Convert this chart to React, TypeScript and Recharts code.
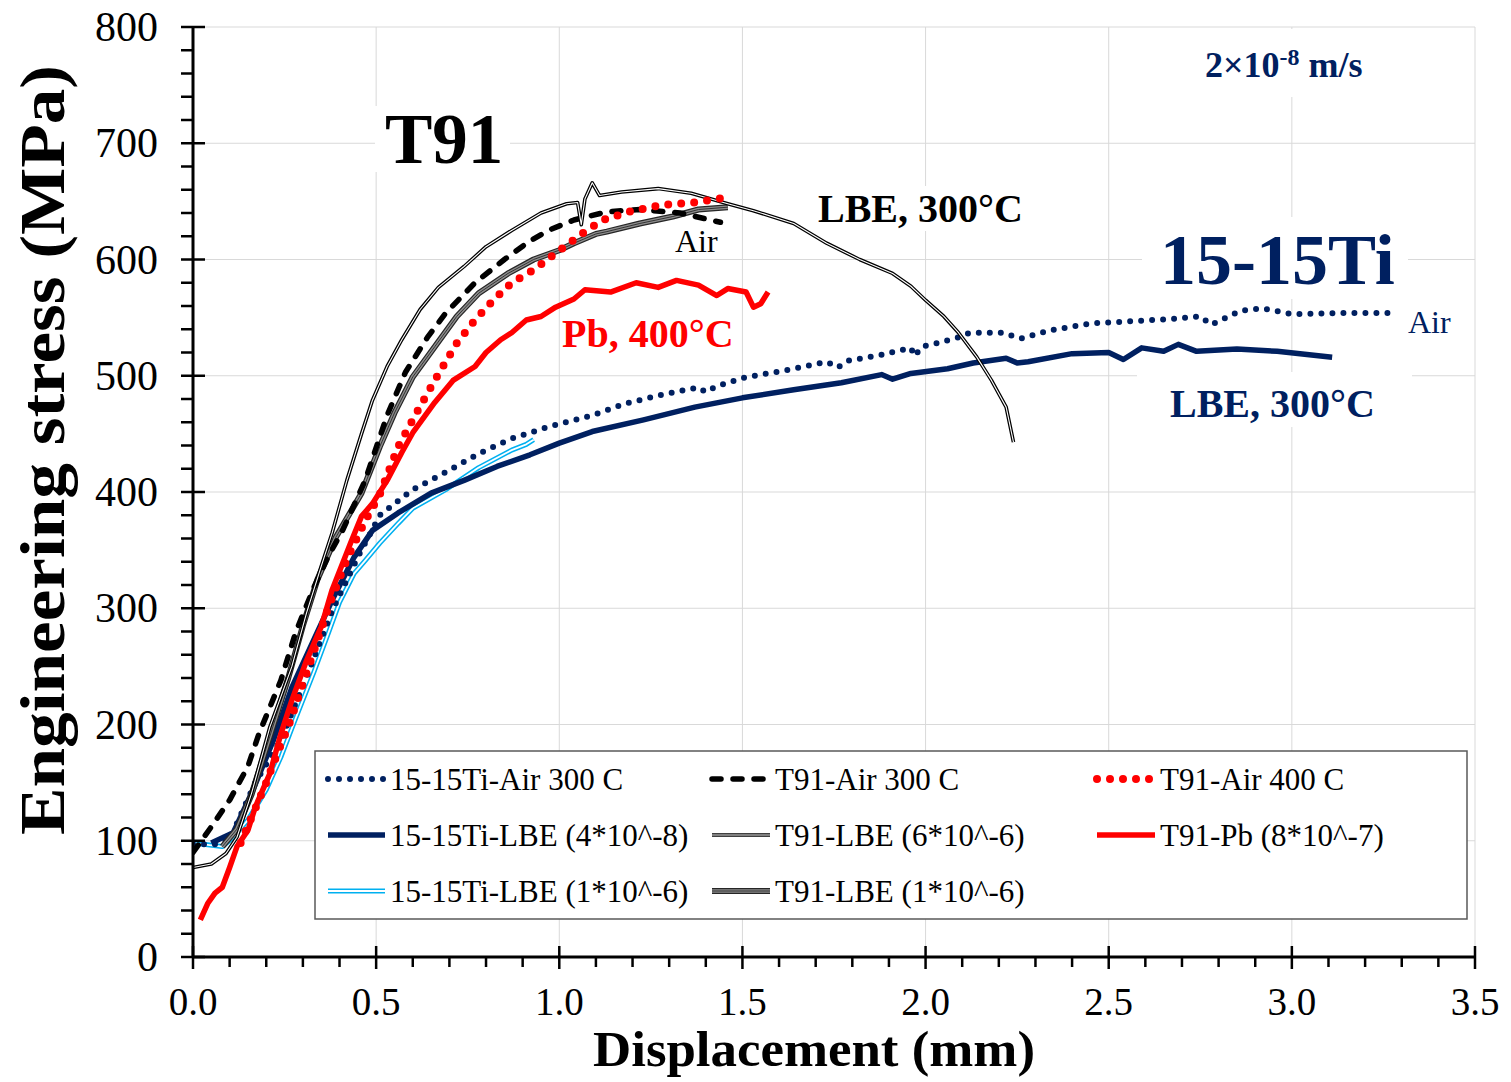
import React from 'react';
import { LineChart, Line, XAxis, YAxis, CartesianGrid } from 'recharts';

type Pt = { x: number; y: number };
type Layer = { stroke: string; width: number; dash?: string; cap?: 'round' | 'butt' };

const NAVY = '#002060';
const RED = '#FF0000';
const FONT = '"Liberation Serif", "Times New Roman", serif';

// ---------- data (displacement mm, engineering stress MPa) ----------
const ti1515Air300: Pt[] = [
  { x: 0.0, y: 97 }, { x: 0.06, y: 97 }, { x: 0.1, y: 101 }, { x: 0.17, y: 150 }, { x: 0.24, y: 187 },
  { x: 0.31, y: 241 }, { x: 0.38, y: 298 }, { x: 0.45, y: 344 }, { x: 0.51, y: 380 }, { x: 0.6, y: 402 },
  { x: 0.69, y: 417 }, { x: 0.78, y: 433 }, { x: 0.87, y: 446 }, { x: 0.97, y: 456 }, { x: 1.09, y: 466 },
  { x: 1.18, y: 476 }, { x: 1.27, y: 483 }, { x: 1.38, y: 490 }, { x: 1.4, y: 486 }, { x: 1.43, y: 491 },
  { x: 1.5, y: 498 }, { x: 1.64, y: 506 }, { x: 1.73, y: 512 }, { x: 1.76, y: 507 }, { x: 1.79, y: 513 },
  { x: 1.88, y: 518 }, { x: 1.96, y: 524 }, { x: 1.97, y: 517 }, { x: 1.99, y: 525 }, { x: 2.03, y: 528 },
  { x: 2.09, y: 533 }, { x: 2.12, y: 537 }, { x: 2.21, y: 537 }, { x: 2.26, y: 532 }, { x: 2.34, y: 539 },
  { x: 2.45, y: 545 }, { x: 2.57, y: 547 }, { x: 2.68, y: 549 }, { x: 2.75, y: 551 }, { x: 2.78, y: 544 },
  { x: 2.86, y: 556 }, { x: 2.92, y: 558 }, { x: 3.0, y: 553 }, { x: 3.14, y: 554 }, { x: 3.28, y: 554 },
];

const ti1515Lbe4e8: Pt[] = [
  { x: 0.05, y: 98 }, { x: 0.11, y: 107 }, { x: 0.16, y: 141 }, { x: 0.22, y: 187 }, { x: 0.27, y: 232 },
  { x: 0.33, y: 273 }, { x: 0.38, y: 307 }, { x: 0.44, y: 344 }, { x: 0.49, y: 367 }, { x: 0.56, y: 382 },
  { x: 0.65, y: 399 }, { x: 0.74, y: 410 }, { x: 0.83, y: 422 }, { x: 0.92, y: 432 }, { x: 1.0, y: 442 },
  { x: 1.09, y: 452 }, { x: 1.23, y: 462 }, { x: 1.37, y: 473 }, { x: 1.5, y: 481 }, { x: 1.64, y: 488 },
  { x: 1.77, y: 494 }, { x: 1.88, y: 501 }, { x: 1.91, y: 497 }, { x: 1.96, y: 502 }, { x: 2.06, y: 506 },
  { x: 2.13, y: 511 }, { x: 2.22, y: 515 }, { x: 2.25, y: 511 }, { x: 2.28, y: 512 }, { x: 2.4, y: 519 },
  { x: 2.5, y: 520 }, { x: 2.54, y: 514 }, { x: 2.59, y: 524 }, { x: 2.65, y: 521 }, { x: 2.69, y: 527 },
  { x: 2.74, y: 521 }, { x: 2.85, y: 523 }, { x: 2.96, y: 521 }, { x: 3.11, y: 516 },
];

const ti1515Lbe1e6: Pt[] = [
  { x: 0.0, y: 98 }, { x: 0.08, y: 95 }, { x: 0.11, y: 103 }, { x: 0.15, y: 118 }, { x: 0.2, y: 144 },
  { x: 0.24, y: 172 }, { x: 0.28, y: 205 }, { x: 0.33, y: 245 }, { x: 0.37, y: 279 }, { x: 0.4, y: 305 },
  { x: 0.44, y: 330 }, { x: 0.47, y: 341 }, { x: 0.51, y: 356 }, { x: 0.56, y: 373 }, { x: 0.6, y: 386 },
  { x: 0.69, y: 402 }, { x: 0.78, y: 421 }, { x: 0.87, y: 436 }, { x: 0.91, y: 441 }, { x: 0.93, y: 445 },
];

const t91Air300: Pt[] = [
  { x: 0.0, y: 90 }, { x: 0.05, y: 112 }, { x: 0.1, y: 135 }, { x: 0.15, y: 164 }, { x: 0.18, y: 192 },
  { x: 0.21, y: 215 }, { x: 0.24, y: 238 }, { x: 0.28, y: 279 }, { x: 0.33, y: 318 }, { x: 0.37, y: 345 },
  { x: 0.41, y: 368 }, { x: 0.47, y: 410 }, { x: 0.53, y: 466 }, { x: 0.58, y: 503 }, { x: 0.64, y: 533 },
  { x: 0.69, y: 554 }, { x: 0.77, y: 580 }, { x: 0.85, y: 600 }, { x: 0.92, y: 616 }, { x: 0.97, y: 625 },
  { x: 1.04, y: 634 }, { x: 1.13, y: 641 }, { x: 1.22, y: 643 }, { x: 1.33, y: 640 }, { x: 1.44, y: 632 },
];

const t91Lbe6e6: Pt[] = [
  { x: 0.0, y: 77 }, { x: 0.05, y: 80 }, { x: 0.09, y: 89 }, { x: 0.12, y: 103 }, { x: 0.16, y: 141 },
  { x: 0.21, y: 198 }, { x: 0.27, y: 250 }, { x: 0.31, y: 296 }, { x: 0.35, y: 336 }, { x: 0.38, y: 365 },
  { x: 0.42, y: 410 }, { x: 0.46, y: 450 }, { x: 0.49, y: 479 }, { x: 0.53, y: 508 }, { x: 0.57, y: 531 },
  { x: 0.62, y: 557 }, { x: 0.67, y: 576 }, { x: 0.74, y: 594 }, { x: 0.8, y: 611 }, { x: 0.87, y: 625 },
  { x: 0.95, y: 640 }, { x: 1.02, y: 648 }, { x: 1.05, y: 649 }, { x: 1.06, y: 630 }, { x: 1.07, y: 652 },
  { x: 1.09, y: 666 }, { x: 1.11, y: 655 }, { x: 1.17, y: 658 }, { x: 1.27, y: 661 }, { x: 1.36, y: 657 },
  { x: 1.46, y: 648 }, { x: 1.53, y: 642 }, { x: 1.64, y: 631 }, { x: 1.73, y: 614 }, { x: 1.82, y: 600 },
  { x: 1.91, y: 588 }, { x: 1.96, y: 577 }, { x: 2.0, y: 565 }, { x: 2.05, y: 551 }, { x: 2.09, y: 537 },
  { x: 2.14, y: 516 }, { x: 2.18, y: 496 }, { x: 2.22, y: 473 }, { x: 2.24, y: 443 },
];

const t91Lbe1e6: Pt[] = [
  { x: 0.08, y: 95 }, { x: 0.12, y: 110 }, { x: 0.16, y: 140 }, { x: 0.21, y: 190 }, { x: 0.26, y: 240 },
  { x: 0.3, y: 285 }, { x: 0.34, y: 325 }, { x: 0.39, y: 361 }, { x: 0.46, y: 399 }, { x: 0.51, y: 439 },
  { x: 0.55, y: 468 }, { x: 0.6, y: 499 }, { x: 0.66, y: 525 }, { x: 0.72, y: 551 }, { x: 0.78, y: 571 },
  { x: 0.86, y: 588 }, { x: 0.93, y: 600 }, { x: 1.0, y: 608 }, { x: 1.04, y: 614 }, { x: 1.1, y: 622 },
  { x: 1.13, y: 624 }, { x: 1.22, y: 631 }, { x: 1.31, y: 637 }, { x: 1.38, y: 643 }, { x: 1.46, y: 645 },
];

const t91Air400: Pt[] = [
  { x: 0.13, y: 98 }, { x: 0.2, y: 150 }, { x: 0.23, y: 175 }, { x: 0.26, y: 198 }, { x: 0.31, y: 244 },
  { x: 0.37, y: 301 }, { x: 0.42, y: 342 }, { x: 0.47, y: 375 }, { x: 0.51, y: 398 }, { x: 0.56, y: 439 },
  { x: 0.61, y: 468 }, { x: 0.66, y: 496 }, { x: 0.72, y: 528 }, { x: 0.77, y: 548 }, { x: 0.82, y: 565 },
  { x: 0.87, y: 580 }, { x: 0.93, y: 591 }, { x: 0.98, y: 603 }, { x: 1.07, y: 624 }, { x: 1.12, y: 634 },
  { x: 1.19, y: 641 }, { x: 1.28, y: 647 }, { x: 1.37, y: 649 }, { x: 1.47, y: 654 },
];

const t91Pb8e7: Pt[] = [
  { x: 0.02, y: 32 }, { x: 0.04, y: 46 }, { x: 0.06, y: 55 }, { x: 0.08, y: 60 }, { x: 0.1, y: 77 },
  { x: 0.12, y: 95 }, { x: 0.15, y: 109 }, { x: 0.17, y: 129 }, { x: 0.21, y: 158 }, { x: 0.24, y: 192 },
  { x: 0.27, y: 221 }, { x: 0.31, y: 255 }, { x: 0.35, y: 284 }, { x: 0.38, y: 316 }, { x: 0.43, y: 356 },
  { x: 0.46, y: 379 }, { x: 0.49, y: 390 }, { x: 0.53, y: 410 }, { x: 0.57, y: 434 }, { x: 0.6, y: 451 },
  { x: 0.66, y: 477 }, { x: 0.71, y: 496 }, { x: 0.77, y: 508 }, { x: 0.8, y: 520 }, { x: 0.84, y: 531 },
  { x: 0.87, y: 537 }, { x: 0.91, y: 548 }, { x: 0.95, y: 551 }, { x: 0.99, y: 559 }, { x: 1.04, y: 566 },
  { x: 1.07, y: 574 }, { x: 1.14, y: 572 }, { x: 1.21, y: 580 }, { x: 1.27, y: 576 }, { x: 1.32, y: 582 },
  { x: 1.38, y: 578 }, { x: 1.43, y: 569 }, { x: 1.46, y: 575 }, { x: 1.51, y: 572 }, { x: 1.53, y: 559 },
  { x: 1.55, y: 562 }, { x: 1.57, y: 572 },
];

// ---------- ticks ----------
const xTicks = [
  0, 0.1, 0.2, 0.3, 0.4, 0.5, 0.6, 0.7, 0.8, 0.9, 1.0, 1.1, 1.2, 1.3, 1.4, 1.5, 1.6, 1.7, 1.8,
  1.9, 2.0, 2.1, 2.2, 2.3, 2.4, 2.5, 2.6, 2.7, 2.8, 2.9, 3.0, 3.1, 3.2, 3.3, 3.4, 3.5,
];
const xMajor = [0, 0.5, 1.0, 1.5, 2.0, 2.5, 3.0, 3.5];
const yTicks = [
  0, 20, 40, 60, 80, 100, 120, 140, 160, 180, 200, 220, 240, 260, 280, 300, 320, 340, 360, 380, 400,
  420, 440, 460, 480, 500, 520, 540, 560, 580, 600, 620, 640, 660, 680, 700, 720, 740, 760, 780, 800,
];
const yMajor = [0, 100, 200, 300, 400, 500, 600, 700, 800];

// ---------- series ----------
const series: { key: string; name: string; data: Pt[]; layers: Layer[] }[] = [
  { key: 'tiLbe6', name: '15-15Ti-LBE (1*10^-6)', data: ti1515Lbe1e6,
    layers: [{ stroke: '#00B0F0', width: 5 }, { stroke: '#FFFFFF', width: 1.8 }] },
  { key: 'tiLbe', name: '15-15Ti-LBE (4*10^-8)', data: ti1515Lbe4e8, layers: [{ stroke: NAVY, width: 5.5 }] },
  { key: 'tiAir', name: '15-15Ti-Air 300 C', data: ti1515Air300,
    layers: [{ stroke: NAVY, width: 6, dash: '0 11', cap: 'round' }] },
  { key: 't91Lbe1', name: 'T91-LBE (1*10^-6)', data: t91Lbe1e6,
    layers: [{ stroke: '#262626', width: 6 }, { stroke: '#8C8C8C', width: 3.6 }, { stroke: '#333333', width: 1 }] },
  { key: 't91Air300', name: 'T91-Air 300 C', data: t91Air300,
    layers: [{ stroke: '#000000', width: 5.5, dash: '9 12', cap: 'round' }] },
  { key: 't91Lbe6', name: 'T91-LBE (6*10^-6)', data: t91Lbe6e6,
    layers: [{ stroke: '#000000', width: 3.6 }, { stroke: '#FFFFFF', width: 1.1 }] },
  { key: 't91Pb', name: 'T91-Pb (8*10^-7)', data: t91Pb8e7, layers: [{ stroke: RED, width: 5.5 }] },
  { key: 't91Air400', name: 'T91-Air 400 C', data: t91Air400,
    layers: [{ stroke: RED, width: 8, dash: '0 13', cap: 'round' }] },
];

const legendOrder = [
  ['tiAir', 't91Air300', 't91Air400'],
  ['tiLbe', 't91Lbe6', 't91Pb'],
  ['tiLbe6', 't91Lbe1'],
];

const isMajorX = (v: number) => xMajor.some((m) => Math.abs(m - v) < 1e-6);

const renderXTick = (props: any) => {
  const { x, y, payload } = props;
  const v = payload.value as number;
  const major = isMajorX(v);
  return (
    <g>
      <line x1={x} x2={x} y1={major ? y - 11 : y} y2={major ? y + 12 : y + 10} stroke="#000" strokeWidth={2.5} />
      {major && (
        <text x={x} y={y + 58} textAnchor="middle" fontFamily={FONT} fontSize={39} fill="#000">
          {v.toFixed(1)}
        </text>
      )}
    </g>
  );
};

const renderYTick = (props: any) => {
  const { x, y, payload } = props;
  const v = payload.value as number;
  const major = yMajor.includes(v);
  return (
    <g>
      <line x1={x - 12} x2={major ? x + 12 : x} y1={y} y2={y} stroke="#000" strokeWidth={2.5} />
      {major && (
        <text x={x - 35} y={y + 14} textAnchor="end" fontFamily={FONT} fontSize={42} fill="#000">
          {v}
        </text>
      )}
    </g>
  );
};

const LegendSample = ({ x1, x2, y, layers }: { x1: number; x2: number; y: number; layers: Layer[] }) => (
  <g>
    {layers.map((l, i) => (
      <line key={i} x1={x1} x2={x2} y1={y} y2={y} stroke={l.stroke} strokeWidth={l.width}
        strokeDasharray={l.dash} strokeLinecap={l.cap ?? 'butt'} />
    ))}
  </g>
);

const Overlay = () => {
  const cols = [
    { sx1: 328, sx2: 385, tx: 390 },
    { sx1: 712, sx2: 770, tx: 775 },
    { sx1: 1097, sx2: 1155, tx: 1160 },
  ];
  const rows = [779, 835, 891];
  return (
    <svg width={1511} height={1082} style={{ position: 'absolute', left: 0, top: 0, pointerEvents: 'none' }}>
      {/* annotation boxes */}
      <rect x={375} y={106} width={135} height={66} fill="#fff" />
      <text x={385} y={163} fontFamily={FONT} fontWeight="bold" fontSize={71} fill="#000">T91</text>

      <rect x={812} y={186} width={218} height={45} fill="#fff" />
      <text x={818} y={222} fontFamily={FONT} fontWeight="bold" fontSize={40} fill="#000">LBE, 300°C</text>

      <text x={675} y={252} fontFamily={FONT} fontSize={32} fill="#000">Air</text>
      <text x={562} y={347} fontFamily={FONT} fontWeight="bold" fontSize={40} fill={RED}>Pb, 400°C</text>

      <rect x={1142} y={217} width={266} height={82} fill="#fff" />
      <text x={1160} y={284} fontFamily={FONT} fontWeight="bold" fontSize={72} fill={NAVY}>15-15Ti</text>

      <text x={1408} y={333} fontFamily={FONT} fontSize={32} fill={NAVY}>Air</text>

      <rect x={1137} y={372} width={275} height={55} fill="#fff" />
      <text x={1170} y={417} fontFamily={FONT} fontWeight="bold" fontSize={40} fill={NAVY}>LBE, 300°C</text>

      <rect x={1190} y={29} width={200} height={68} fill="#fff" />
      <text x={1205} y={77} fontFamily={FONT} fontWeight="bold" fontSize={36} fill={NAVY}>
        2×10<tspan dy={-12} fontSize={24}>-8</tspan><tspan dy={12}> m/s</tspan>
      </text>

      {/* axis titles */}
      <text transform="translate(64,450) rotate(-90)" textAnchor="middle" fontFamily={FONT} fontWeight="bold"
        fontSize={64} fill="#000" textLength={770} lengthAdjust="spacingAndGlyphs">
        Engineering stress (MPa)
      </text>
      <text x={814} y={1066} textAnchor="middle" fontFamily={FONT} fontWeight="bold" fontSize={51} fill="#000"
        textLength={442} lengthAdjust="spacingAndGlyphs">
        Displacement (mm)
      </text>

      {/* legend */}
      <rect x={315} y={751} width={1152} height={168} fill="#fff" stroke="#595959" strokeWidth={1.5} />
      {legendOrder.map((row, ri) =>
        row.map((key, ci) => {
          const s = series.find((q) => q.key === key)!;
          const c = cols[ci];
          const y = rows[ri];
          return (
            <g key={key}>
              <LegendSample x1={c.sx1} x2={c.sx2} y={y} layers={s.layers} />
              <text x={c.tx} y={y + 11} fontFamily={FONT} fontSize={31} fill="#000">{s.name}</text>
            </g>
          );
        })
      )}
    </svg>
  );
};

export default function App() {
  const lines: React.ReactElement[] = [];
  series.forEach((s) => {
    s.layers.forEach((l, i) => {
      lines.push(
        <Line
          key={`${s.key}-${i}`}
          data={s.data}
          dataKey="y"
          name={`${s.name}-${i}`}
          type="linear"
          stroke={l.stroke}
          strokeWidth={l.width}
          strokeDasharray={l.dash}
          strokeLinecap={l.cap ?? 'butt'}
          strokeLinejoin="round"
          dot={false}
          activeDot={false}
          legendType="none"
          isAnimationActive={false}
        />
      );
    });
  });

  return (
    <div style={{ position: 'absolute', left: 0, top: 0, width: 1511, height: 1082, background: '#fff' }}>
      <LineChart width={1511} height={1082} margin={{ top: 27, right: 36, bottom: 65, left: 93 }}>
        <CartesianGrid
          stroke="#D9D9D9"
          strokeWidth={1}
          horizontalValues={[100, 200, 300, 400, 500, 600, 700, 800]}
          verticalValues={[0.5, 1.0, 1.5, 2.0, 2.5, 3.0, 3.5]}
        />
        <XAxis
          type="number"
          dataKey="x"
          domain={[0, 3.5]}
          ticks={xTicks}
          interval={0}
          tick={renderXTick}
          tickSize={0}
          tickMargin={0}
          tickLine={false}
          axisLine={{ stroke: '#000', strokeWidth: 3 }}
          height={60}
          allowDataOverflow
        />
        <YAxis
          type="number"
          domain={[0, 800]}
          ticks={yTicks}
          interval={0}
          tick={renderYTick}
          tickSize={0}
          tickMargin={0}
          tickLine={false}
          axisLine={{ stroke: '#000', strokeWidth: 3 }}
          width={100}
          allowDataOverflow
        />
        {lines}
      </LineChart>
      <Overlay />
    </div>
  );
}
